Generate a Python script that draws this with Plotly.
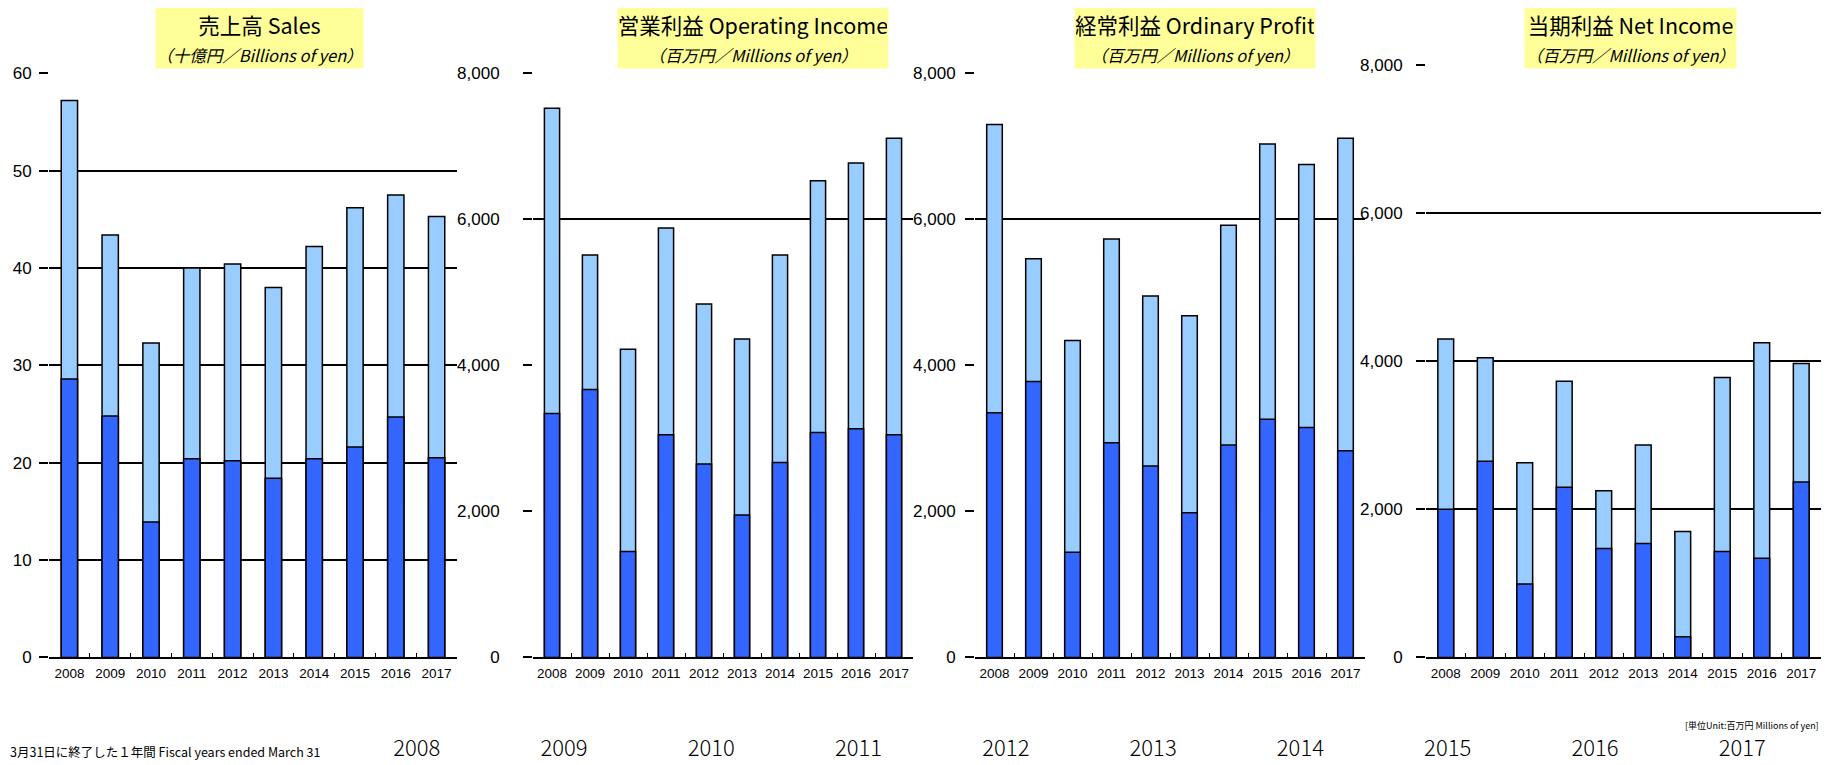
import plotly.graph_objects as go

# fiscal years (ended March 31)
years = ['2008', '2009', '2010', '2011', '2012', '2013', '2014', '2015', '2016', '2017']

# full-year totals (light bars) and first-half figures (dark bars)
sales_total = [57.2, 43.4, 32.3, 40.0, 40.4, 38.0, 42.2, 46.2, 47.5, 45.3]
sales_half = [28.6, 24.8, 13.9, 20.4, 20.2, 18.4, 20.4, 21.6, 24.7, 20.5]
op_total = [7520, 5510, 4220, 5880, 4840, 4360, 5510, 6530, 6770, 7110]
op_half = [3340, 3670, 1450, 3050, 2650, 1950, 2670, 3080, 3130, 3050]
ord_total = [7300, 5460, 4340, 5730, 4950, 4680, 5920, 7030, 6750, 7110]
ord_half = [3350, 3780, 1440, 2940, 2620, 1980, 2910, 3260, 3150, 2830]
net_total = [4300, 4050, 2630, 3730, 2250, 2870, 1700, 3780, 4250, 3970]
net_half = [2000, 2650, 990, 2300, 1470, 1540, 280, 1430, 1340, 2370]

titles = ['売上高 Sales', '営業利益 Operating Income', '経常利益 Ordinary Profit', '当期利益 Net Income']
units = ['（十億円／Billions of yen）', '（百万円／Millions of yen）',
         '（百万円／Millions of yen）', '（百万円／Millions of yen）']

# figure size; positions below are given in page pixels and mapped onto it
W, H = 1813, 765
OFF_X, OFF_Y, SY = 8, 16, 0.97
LIGHT = '#99CCFF'
DARK = '#3366FF'
NUM_FONT = 'Liberation Sans, Arial, sans-serif'
JP = 'Noto Sans CJK JP, sans-serif'


def px(x):
    return max(0.0, min(1.0, (x - OFF_X) / W))


def py(y):
    return max(0.0, min(1.0, 1 - (y - OFF_Y) / SY / H))


# page-pixel layout of each panel (x from, x to, top y)
panels = [
    dict(x0=49, x1=457, top=72, rng=[0, 60], ticks=[0, 10, 20, 30, 40, 50, 60],
         grid=[10, 20, 30, 40, 50, 60], fmt='', stand=4, tx=259, tw=211),
    dict(x0=533, x1=913, top=72, rng=[0, 8000], ticks=[0, 2000, 4000, 6000, 8000],
         grid=[6000, 8000], fmt=',', stand=20, tx=753, tw=274),
    dict(x0=975, x1=1365, top=72, rng=[0, 8000], ticks=[0, 2000, 4000, 6000, 8000],
         grid=[6000, 8000], fmt=',', stand=6, tx=1195, tw=244),
    dict(x0=1426, x1=1821, top=64, rng=[0, 8000], ticks=[0, 2000, 4000, 6000, 8000],
         grid=[2000, 4000, 6000, 8000], fmt=',', stand=10, tx=1630, tw=215),
]
zero_y = 653

series = [(sales_total, sales_half), (op_total, op_half), (ord_total, ord_half), (net_total, net_half)]

fig = go.Figure()
layout = {}
annotations = []
for i, (p, (tot, half)) in enumerate(zip(panels, series)):
    n = '' if i == 0 else str(i + 1)
    xa, ya = 'x' + n, 'y' + n
    fig.add_trace(go.Bar(x=years, y=tot, xaxis=xa, yaxis=ya, marker_color=LIGHT,
                         marker_line=dict(color='black', width=1.5), width=0.4, showlegend=False))
    fig.add_trace(go.Bar(x=years, y=half, xaxis=xa, yaxis=ya, marker_color=DARK,
                         marker_line=dict(color='black', width=1.5), width=0.4, showlegend=False))
    layout['xaxis' + n] = dict(
        domain=[px(p['x0']), px(p['x1'])], anchor=ya, type='category',
        showline=True, linecolor='black', linewidth=1.5, ticks='inside', tickson='boundaries',
        ticklen=5, tickcolor='black', showgrid=False, tickangle=0,
        tickfont=dict(family=NUM_FONT, size=13.5, color='black'), ticklabelstandoff=3)
    layout['yaxis' + n] = dict(
        domain=[py(zero_y), py(p['top'])], anchor=xa, range=p['rng'],
        tickmode='array', tickvals=p['ticks'], tickformat=p['fmt'],
        ticks='outside', ticklen=9, tickcolor='black', tickwidth=1.5,
        showgrid=False, zeroline=False, showline=False,
        minor=dict(tickmode='array', tickvals=p['grid'], showgrid=True,
                   gridcolor='black', gridwidth=1.5, ticks=''),
        tickfont=dict(family=NUM_FONT, size=17, color='black'),
        ticklabelstandoff=p['stand'])
    annotations.append(dict(
        x=px(p['tx']), y=py(37), xref='paper', yref='paper', xanchor='center', yanchor='middle',
        text=titles[i] + '<br><i><span style="font-size:16.5px">' + units[i] + '</span></i>',
        showarrow=False, bgcolor='#FFFF99', width=p['tw'] - 6, height=58,
        font=dict(family=JP, size=21.5, color='black'), align='center'))

# broken bottom category axis (large years row)
fig.add_trace(go.Scatter(x=years, y=[None] * len(years), xaxis='x5', yaxis='y5',
                         mode='markers', showlegend=False, hoverinfo='skip'))
layout['xaxis5'] = dict(domain=[px(339), px(1820)], anchor='y5', type='category',
                        showline=False, ticks='', showgrid=False, zeroline=False, tickangle=0,
                        tickfont=dict(family=JP, size=22, color='black', weight=300))
layout['yaxis5'] = dict(domain=[py(728), py(718)], anchor='x5', visible=False, range=[0, 1])

annotations.append(dict(x=px(3), y=py(747), xref='paper', yref='paper', xanchor='left',
                        yanchor='middle', showarrow=False,
                        text='3月31日に終了した１年間 Fiscal years ended March 31',
                        font=dict(family=JP, size=12.5, color='black')))
annotations.append(dict(x=px(1827), y=py(721), xref='paper', yref='paper', xanchor='right',
                        yanchor='middle', showarrow=False,
                        text='[単位Unit:百万円 Millions of yen]',
                        font=dict(family=JP, size=9, color='black')))

fig.update_layout(
    width=W, height=H, margin=dict(l=0, r=0, t=0, b=0),
    paper_bgcolor='white', plot_bgcolor='white',
    barmode='overlay', bargap=0.6,
    annotations=annotations, **layout)

fig.write_html('out.html')
